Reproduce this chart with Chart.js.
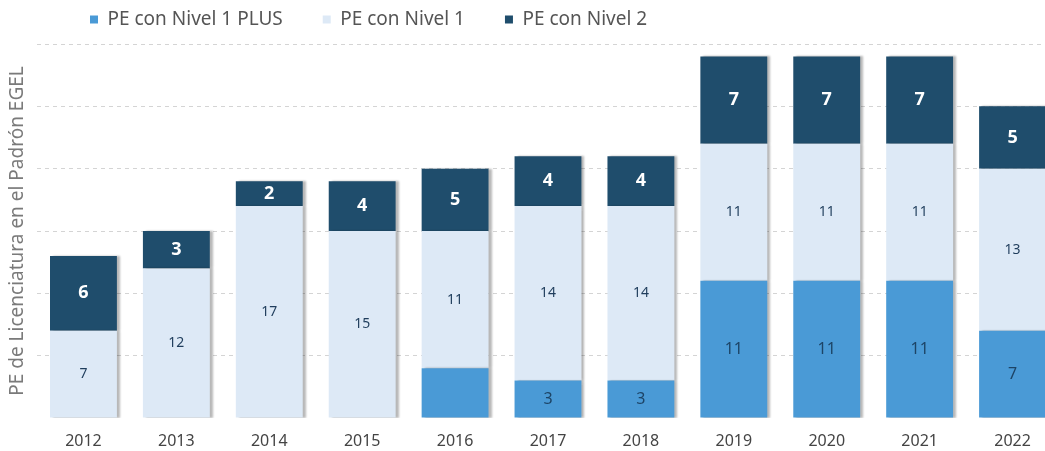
<!DOCTYPE html>
<html>
<head>
<meta charset="utf-8">
<script src="https://cdn.jsdelivr.net/npm/chart.js@4"></script>
<style>
  html, body { margin: 0; padding: 0; background: #fff; overflow: hidden; }
  #wrap { width: 1060px; height: 451px; position: relative; }
</style>
</head>
<body>
<div id="wrap"><canvas id="chart-egel"></canvas></div>
<script>
// Datos
const years = ['2012', '2013', '2014', '2015', '2016', '2017', '2018', '2019', '2020', '2021', '2022'];
const nivel1Plus = [0, 0, 0, 0, 4, 3, 3, 11, 11, 11, 7];
const nivel1 = [7, 12, 17, 15, 11, 14, 14, 11, 11, 11, 13];
const nivel2 = [6, 3, 2, 4, 5, 4, 4, 7, 7, 7, 5];
// etiquetas visibles dentro de los segmentos ('' = sin etiqueta)
const nivel1PlusLabels = ['', '', '', '', '', '3', '3', '11', '11', '11', '7'];
const nivel1Labels = nivel1.map(String);
const nivel2Labels = nivel2.map(String);

const FONT = '"Noto Sans", "Open Sans", sans-serif';
const LEGEND_PAD = 40;

// sombra ligera a la derecha de las barras
const barShadow = {
  id: 'barShadow',
  beforeDatasetDraw(chart) {
    const ctx = chart.ctx;
    ctx.save();
    ctx.shadowColor = 'rgba(0,0,0,0.28)';
    ctx.shadowOffsetX = 3;
    ctx.shadowOffsetY = 0;
    ctx.shadowBlur = 2;
  },
  afterDatasetDraw(chart) {
    chart.ctx.restore();
  }
};

// etiquetas de valor en el centro de cada segmento
const segmentLabels = {
  id: 'segmentLabels',
  afterDatasetsDraw(chart) {
    const ctx = chart.ctx;
    chart.data.datasets.forEach((ds, i) => {
      const meta = chart.getDatasetMeta(i);
      meta.data.forEach((bar, j) => {
        const txt = ds.segLabels[j];
        if (!txt) return;
        const y = (bar.y + bar.base) / 2;
        ctx.save();
        ctx.font = ds.segFont;
        ctx.fillStyle = ds.segColor;
        ctx.textAlign = 'center';
        ctx.textBaseline = 'middle';
        ctx.fillText(txt, bar.x, y);
        ctx.restore();
      });
    });
  }
};

// leyenda: altura fija y desplazada arriba a la izquierda
const legendPlace = {
  id: 'legendPlace',
  beforeLayout(chart) {
    const lg = chart.legend;
    if (lg && !lg._patched) {
      const fit = lg.fit.bind(lg);
      lg.fit = function () { fit(); this.height = 44; };
      lg._patched = true;
    }
  },
  beforeDraw(chart) {
    chart.legend.left = 50;
    chart.legend.top = 10 - LEGEND_PAD;
  }
};

new Chart(document.getElementById('chart-egel'), {
  type: 'bar',
  data: {
    labels: years,
    datasets: [
      {
        label: 'PE con Nivel 1 PLUS',
        data: nivel1Plus,
        backgroundColor: '#4a9ad6',
        segLabels: nivel1PlusLabels,
        segFont: '16px ' + FONT,
        segColor: '#1d4466'
      },
      {
        label: 'PE con Nivel 1',
        data: nivel1,
        backgroundColor: '#dde9f6',
        segLabels: nivel1Labels,
        segFont: '14px ' + FONT,
        segColor: '#1f3d5c'
      },
      {
        label: 'PE con Nivel 2',
        data: nivel2,
        backgroundColor: '#1f4d6c',
        segLabels: nivel2Labels,
        segFont: 'bold 18px ' + FONT,
        segColor: '#ffffff'
      }
    ]
  },
  options: {
    responsive: true,
    maintainAspectRatio: false,
    animation: false,
    layout: { padding: { top: 0, right: 1, bottom: 0, left: 0 } },
    datasets: {
      bar: { barPercentage: 0.72, categoryPercentage: 1.0 }
    },
    plugins: {
      legend: {
        position: 'top',
        align: 'start',
        labels: {
          boxWidth: 8,
          boxHeight: 8,
          padding: LEGEND_PAD,
          color: '#555',
          font: { family: FONT, size: 19 }
        }
      },
      tooltip: { enabled: false }
    },
    scales: {
      x: {
        stacked: true,
        afterFit(scale) { scale.height = 33; },
        grid: { display: false, drawTicks: false },
        border: { display: false },
        ticks: {
          color: '#444',
          padding: 14,
          font: { family: FONT, size: 16 }
        }
      },
      y: {
        stacked: true,
        min: 0,
        max: 30,
        afterFit(scale) { scale.width = 37; },
        border: { display: false, dash: [4, 4] },
        grid: {
          drawTicks: false,
          color: (c) => c.tick.value === 0 ? 'rgba(0,0,0,0)' : '#d4d4d4',
          lineWidth: 1
        },
        ticks: { display: false, stepSize: 5 },
        title: {
          display: true,
          text: 'PE de Licenciatura en el Padrón EGEL',
          color: '#7a7a7a',
          font: { family: FONT, size: 19 },
          padding: { top: 6, bottom: 0 }
        }
      }
    }
  },
  plugins: [barShadow, segmentLabels, legendPlace]
});
</script>
</body>
</html>
